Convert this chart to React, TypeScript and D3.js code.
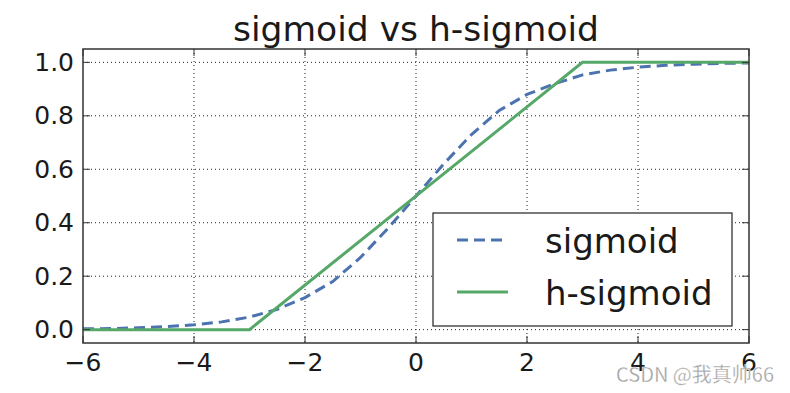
import React from "react";
import * as d3 from "d3";

const sigX = [-6, -5.5, -5, -4.5, -4, -3.5, -3, -2.5, -2, -1.5, -1, -0.5, 0, 0.5, 1, 1.5, 2, 2.5, 3, 3.5, 4, 4.5, 5, 5.5, 6];
const sigY = [0.003, 0.004, 0.007, 0.011, 0.018, 0.029, 0.047, 0.076, 0.12, 0.18, 0.27, 0.38, 0.5, 0.62, 0.73, 0.82, 0.88, 0.92, 0.953, 0.971, 0.982, 0.989, 0.993, 0.996, 0.998];
// h-sigmoid breakpoints
const hX = [-6, -3, 3, 6];
const hY = [0, 0, 1, 1];

const xTicks = [-6, -4, -2, 0, 2, 4, 6];
const yTicks = [0, 0.2, 0.4, 0.6, 0.8, 1.0];
const seriesNames = ["sigmoid", "h-sigmoid"];

const W = 790;
const H = 393;
const left = 83, right = 749, top = 49, bottom = 343;

const font = "'DejaVu Sans', sans-serif";

export default function App() {
  const x = d3.scaleLinear().domain([-6, 6]).range([left, right]);
  const y = d3.scaleLinear().domain([-0.05, 1.05]).range([bottom, top]);

  const line = d3.line<[number, number]>().x(d => x(d[0])).y(d => y(d[1]));
  const sigPath = line(sigX.map((v, i) => [v, sigY[i]] as [number, number])) || "";
  const hPath = line(hX.map((v, i) => [v, hY[i]] as [number, number])) || "";

  const fmtX = (v: number) => (v < 0 ? "\u2212" + Math.abs(v) : String(v));
  const tickLen = 7;

  return (
    <svg width={W} height={H} style={{ position: "absolute", left: 0, top: 0, background: "#fff" }} fontFamily={font}>
      <rect x={0} y={0} width={W} height={H} fill="#fff" />
      <text x={(left + right) / 2} y={41} textAnchor="middle" fontSize={34.5} fill="#1a1a1a">sigmoid vs h-sigmoid</text>

      {/* grid */}
      <g stroke="#222" strokeWidth={1} strokeDasharray="1,3">
        {xTicks.slice(1, -1).map(t => (
          <line key={"gx" + t} x1={x(t)} x2={x(t)} y1={top} y2={bottom} />
        ))}
        {yTicks.map(t => (
          <line key={"gy" + t} x1={left} x2={right} y1={y(t)} y2={y(t)} />
        ))}
      </g>

      <clipPath id="plotclip">
        <rect x={left} y={top} width={right - left} height={bottom - top} />
      </clipPath>
      <g clipPath="url(#plotclip)" fill="none" strokeWidth={3}>
        <path d={sigPath} stroke="#4C72B0" strokeDasharray="11,6" />
        <path d={hPath} stroke="#55A868" />
      </g>

      {/* ticks */}
      <g stroke="#333" strokeWidth={1}>
        {xTicks.map(t => (
          <g key={"tx" + t}>
            <line x1={x(t)} x2={x(t)} y1={bottom} y2={bottom - tickLen} />
            <line x1={x(t)} x2={x(t)} y1={top} y2={top + tickLen} />
          </g>
        ))}
        {yTicks.map(t => (
          <g key={"ty" + t}>
            <line x1={left} x2={left + tickLen} y1={y(t)} y2={y(t)} />
            <line x1={right} x2={right - tickLen} y1={y(t)} y2={y(t)} />
          </g>
        ))}
      </g>
      <rect x={left} y={top} width={right - left} height={bottom - top} fill="none" stroke="#333" strokeWidth={1.5} />

      {xTicks.map(t => (
        <text key={"lx" + t} x={x(t)} y={371} textAnchor="middle" fontSize={25} fill="#1a1a1a">{fmtX(t)}</text>
      ))}
      {yTicks.map(t => (
        <text key={"ly" + t} x={74} y={y(t) + 8.5} textAnchor="end" fontSize={25} fill="#1a1a1a">{t.toFixed(1)}</text>
      ))}

      {/* legend */}
      <rect x={433} y={213} width={299} height={113} fill="#fff" stroke="#222" strokeWidth={1.2} />
      <line x1={457} x2={508} y1={240} y2={240} stroke="#4C72B0" strokeWidth={3} strokeDasharray="11,6" />
      <line x1={457} x2={508} y1={292} y2={292} stroke="#55A868" strokeWidth={3} />
      <text x={545} y={253} fontSize={34} fill="#1a1a1a">{seriesNames[0]}</text>
      <text x={545} y={305} fontSize={34} fill="#1a1a1a">{seriesNames[1]}</text>

      <text x={774} y={382} textAnchor="end" fontSize={20} fill="#a0a0a0" stroke="#ffffff" strokeWidth={0.3} fontFamily="'Noto Sans CJK SC', sans-serif">CSDN @我真帅66</text>
    </svg>
  );
}
